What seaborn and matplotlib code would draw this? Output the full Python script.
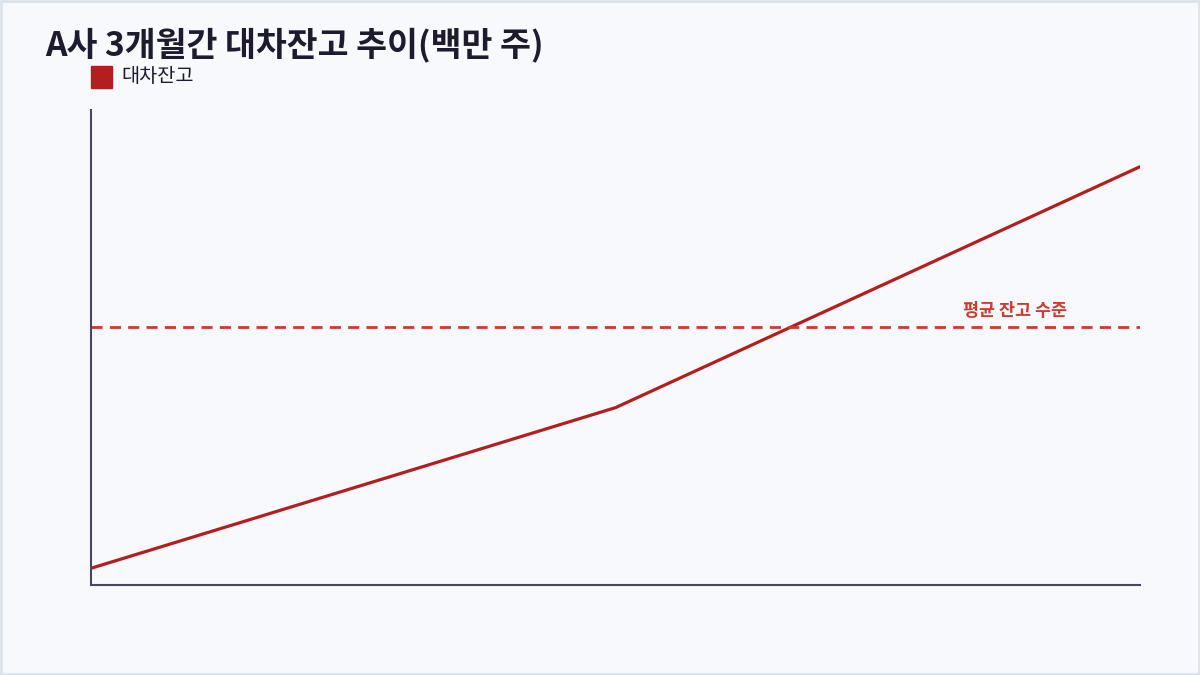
import matplotlib
matplotlib.use('Agg')
import matplotlib.pyplot as plt
from matplotlib.patches import Rectangle
import seaborn as sns
import pandas as pd

# data (million shares)
months = ['1개월', '2개월', '3개월']
balance = [12.0, 14.4, 18.0]
avg_level = 15.6
y_range = (11.75, 18.85)

title = 'A사 3개월간 대차잔고 추이(백만 주)'
series_name = '대차잔고'
avg_label = '평균 잔고 수준'

bg = '#f7f9fd'
line_color = '#b31f1f'
avg_color = '#d0392b'
axis_color = '#4a4560'

sns.set_theme(style='white')
plt.rcParams['font.family'] = ['Noto Sans CJK KR', 'DejaVu Sans']

df = pd.DataFrame({'month': months, 'balance': balance})

fig = plt.figure(figsize=(12, 6.75), dpi=100, facecolor=bg)
ax = fig.add_axes([0.0758, 0.1333, 0.8742, 0.704])
ax.set_facecolor(bg)

sns.lineplot(data=df, x='month', y='balance', ax=ax, color=line_color,
             linewidth=2.3, sort=False, label=series_name, legend=False)
ax.axhline(avg_level, color=avg_color, linestyle=(0, (4, 2.6)), linewidth=2)
ax.annotate(avg_label, xy=(0.881, avg_level), xycoords=ax.get_yaxis_transform(),
            xytext=(0, 12), textcoords='offset points',
            ha='center', va='center', fontsize=12.5, color=avg_color,
            fontweight='semibold')

ax.set_xlim(0, 2.0)
ax.set_ylim(*y_range)
ax.set_xticks([])
ax.set_yticks([])
ax.set_xlabel('')
ax.set_ylabel('')
for s in ['top', 'right']:
    ax.spines[s].set_visible(False)
for s in ['left', 'bottom']:
    ax.spines[s].set_color(axis_color)
    ax.spines[s].set_linewidth(1.5)

fig.text(0.0375, 0.933, title, fontsize=24.2, fontweight='bold',
         color='#1e1b2e', va='center', ha='left')
fig.patches.append(Rectangle((0.0758, 0.870), 0.0175, 0.0326,
                             transform=fig.transFigure, color=line_color))
fig.text(0.1008, 0.886, series_name, fontsize=14.2, color='#1e1b2e',
         va='center', ha='left')
fig.patches.append(Rectangle((0.001, 0.0015), 0.998, 0.997, fill=False,
                             transform=fig.transFigure, edgecolor='#dde3ec',
                             linewidth=2))

fig.savefig('out.png', dpi=100, facecolor=bg)
